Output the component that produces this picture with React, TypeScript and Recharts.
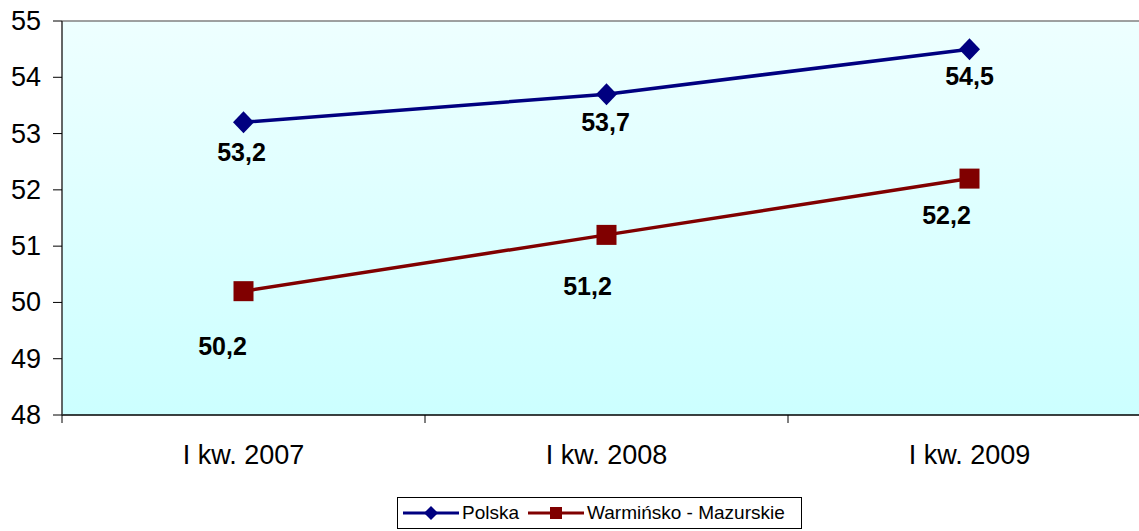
import React from "react";
import { LineChart, Line, XAxis, YAxis, CartesianGrid, Legend, LabelList, ReferenceLine } from "recharts";

const categories = ["I kw. 2007", "I kw. 2008", "I kw. 2009"];
const polska = [53.2, 53.7, 54.5];
const warminsko = [50.2, 51.2, 52.2];
const yTicks = [48, 49, 50, 51, 52, 53, 54, 55];

const data = categories.map((c, i) => ({ x: i + 0.5, name: c, polska: polska[i], warm: warminsko[i] }));

const FONT = "'Liberation Sans', Arial, sans-serif";
const NAVY = "#000080";
const MAROON = "#800000";

const warmLabelShift = [{ dx: -21, dy: 55 }, { dx: -19, dy: 51 }, { dx: -23, dy: 36 }];
const polLabelShift = [{ dx: -2, dy: 30 }, { dx: -1, dy: 28 }, { dx: 0, dy: 27 }];

const Diamond = (props: any) => {
  const { cx, cy } = props;
  if (cx == null || cy == null) return null;
  const rx = 10.5;
  const ry = 11;
  return <path d={`M${cx},${cy - ry}L${cx + rx},${cy}L${cx},${cy + ry}L${cx - rx},${cy}Z`} fill={NAVY} />;
};
const Square = (props: any) => {
  const { cx, cy } = props;
  if (cx == null || cy == null) return null;
  const s = 10;
  return <rect x={cx - s} y={cy - s} width={2 * s} height={2 * s} fill={MAROON} />;
};

const makeLabel = (shifts: { dx: number; dy: number }[]) => (props: any) => {
  const { x, y, value, index } = props;
  const sh = shifts[index] || { dx: 0, dy: 30 };
  return (
    <text x={x + sh.dx} y={y + sh.dy} textAnchor="middle" dominantBaseline="central"
      fontFamily={FONT} fontWeight="bold" fontSize={25} fill="#000">
      {String(value).replace(".", ",")}
    </text>
  );
};

const XTick = (props: any) => {
  const { x, y, payload } = props;
  const v = payload.value;
  if (Number.isInteger(v)) {
    return <line x1={x} x2={x} y1={y - 8} y2={y} stroke="#000" strokeWidth={1} />;
  }
  const idx = Math.floor(v);
  return (
    <text x={x} y={y + 32} textAnchor="middle" dominantBaseline="central" fontFamily={FONT} fontSize={27} fill="#000">
      {categories[idx]}
    </text>
  );
};

const YTick = (props: any) => {
  const { x, y, payload } = props;
  return (
    <text x={x} y={y} textAnchor="end" dominantBaseline="central" fontFamily={FONT} fontSize={27} fill="#000">
      {payload.value}
    </text>
  );
};

const LegendContent = () => (
  <div style={{ border: "1px solid #000", height: 32, boxSizing: "border-box", display: "flex", alignItems: "center", fontFamily: FONT, fontSize: 19, color: "#000", background: "#fff", paddingLeft: 5, whiteSpace: "nowrap", overflow: "hidden" }}>
    <svg width={56} height={20}><line x1={0} x2={56} y1={10} y2={10} stroke={NAVY} strokeWidth={3} /><path d="M28,3L35,10L28,17L21,10Z" fill={NAVY} /></svg>
    <span style={{ marginLeft: 3, marginRight: 9 }}>Polska</span>
    <svg width={56} height={20}><line x1={0} x2={56} y1={10} y2={10} stroke={MAROON} strokeWidth={3} /><rect x={22} y={4} width={12} height={12} fill={MAROON} /></svg>
    <span style={{ marginLeft: 3 }}>Warmińsko - Mazurskie</span>
  </div>
);

export default function App() {
  return (
    <div style={{ position: "absolute", left: 0, top: 0, width: 1139, height: 531, overflow: "hidden", background: "#fff" }}>
      <LineChart width={1165} height={531} data={data} margin={{ top: 21, right: 14, bottom: 39, left: 0 }}>
        <defs>
          <linearGradient id="bg" x1="0" y1="0" x2="0" y2="1">
            <stop offset="0%" stopColor="#EEFFFF" />
            <stop offset="100%" stopColor="#CCFFFF" />
          </linearGradient>
        </defs>
        <CartesianGrid horizontal={false} vertical={false} fill="url(#bg)" fillOpacity={1} />
        <XAxis dataKey="x" type="number" domain={[0, 3]} ticks={[0, 0.5, 1, 1.5, 2, 2.5, 3]} interval={0}
          tick={<XTick />} tickLine={false} axisLine={{ stroke: "#000", strokeWidth: 1.5 }} height={45} />
        <YAxis domain={[48, 55]} ticks={yTicks} interval={0} width={62} tickSize={9} tickMargin={12}
          axisLine={{ stroke: "#333", strokeWidth: 1.5 }} tickLine={{ stroke: "#000" }}
          tick={<YTick />} />
        <ReferenceLine y={55} stroke="#808080" strokeWidth={1.5} />
        <Line dataKey="polska" stroke={NAVY} strokeWidth={3.5} dot={<Diamond />} activeDot={false} isAnimationActive={false}>
          <LabelList dataKey="polska" content={makeLabel(polLabelShift)} />
        </Line>
        <Line dataKey="warm" stroke={MAROON} strokeWidth={3.5} dot={<Square />} activeDot={false} isAnimationActive={false}>
          <LabelList dataKey="warm" content={makeLabel(warmLabelShift)} />
        </Line>
        <Legend content={<LegendContent />} wrapperStyle={{ left: 397, top: 497, width: 405, bottom: "auto" }} />
      </LineChart>
    </div>
  );
}
